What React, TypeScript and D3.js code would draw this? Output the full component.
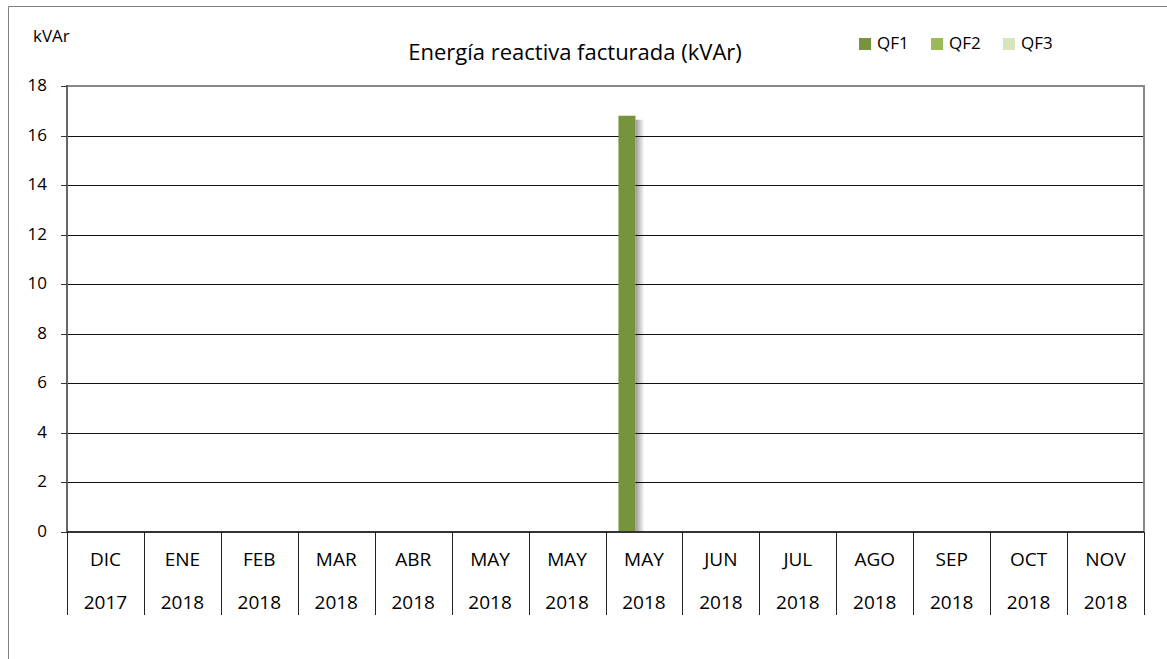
import * as React from "react";
import * as d3 from "d3";

const months = ["DIC", "ENE", "FEB", "MAR", "ABR", "MAY", "MAY", "MAY", "JUN", "JUL", "AGO", "SEP", "OCT", "NOV"];
const years = ["2017", "2018", "2018", "2018", "2018", "2018", "2018", "2018", "2018", "2018", "2018", "2018", "2018", "2018"];
const seriesNames = ["QF1", "QF2", "QF3"];
const qf1 = [0, 0, 0, 0, 0, 0, 0, 16.8, 0, 0, 0, 0, 0, 0];
const qf2 = [0, 0, 0, 0, 0, 0, 0, 0, 0, 0, 0, 0, 0, 0];
const qf3 = [0, 0, 0, 0, 0, 0, 0, 0, 0, 0, 0, 0, 0, 0];
const yTicks = [0, 2, 4, 6, 8, 10, 12, 14, 16, 18];
const colors = ["#77933C", "#9BBB59", "#D7E4BD"];

const font = "'Open Sans', sans-serif";

export default function App() {
  const width = 1167;
  const height = 659;
  const left = 67, right = 1144, top = 86, bottom = 532;

  const series = [qf1, qf2, qf3];
  const idx = months.map((_, i) => i);

  const x = d3.scaleBand<number>().domain(idx).range([left, right]);
  const groupW = 51;
  const inner = d3.scaleBand<number>().domain([0, 1, 2]).range([0, groupW]);
  const y = d3.scaleLinear().domain([0, 18]).range([bottom, top]);
  const groupOffset = (x.bandwidth() - groupW) / 2;
  const crisp = (v: number) => Math.round(v) + 0.5;

  return (
    <svg width={width} height={height} style={{ position: "absolute", left: 0, top: 0 }} fontFamily={font}>
      <defs>
        <linearGradient id="shadow" x1="0" x2="1" y1="0" y2="0">
          <stop offset="0" stopColor="#000" stopOpacity={0.4} />
          <stop offset="1" stopColor="#000" stopOpacity={0} />
        </linearGradient>
      </defs>
      <rect x={0} y={0} width={width} height={height} fill="#fff" />
      {/* outer frame */}
      <path d={`M8.5,${height} V6.5 H${width}`} fill="none" stroke="#808080" strokeWidth={1} />

      {/* gridlines */}
      {yTicks.filter(t => t > 0 && t < 18).map(t => (
        <line key={t} x1={left} x2={right} y1={crisp(y(t))} y2={crisp(y(t))} stroke="#111" strokeWidth={1} />
      ))}
      {/* plot border (top & right) */}
      <path d={`M${left},${top} H${right} V${bottom}`} fill="none" stroke="#888" strokeWidth={2} />

      {/* bars */}
      {series.map((vals, s) =>
        vals.map((v, i) => {
          if (!v) return null;
          const bx = (x(i) as number) + groupOffset + (inner(s) as number);
          const bw = inner.bandwidth();
          return (
            <g key={`${s}-${i}`}>
              <rect x={bx + bw} y={y(v) + 4} width={9} height={bottom - y(v) - 4} fill="url(#shadow)" />
              <rect x={bx} y={y(v)} width={bw} height={bottom - y(v)} fill={colors[s]} />
            </g>
          );
        })
      )}

      {/* y axis */}
      <line x1={left} x2={left} y1={top - 1} y2={bottom + 1} stroke="#666" strokeWidth={2} />
      {yTicks.map(t => (
        <g key={t}>
          <line x1={61} x2={left} y1={crisp(y(t))} y2={crisp(y(t))} stroke="#333" strokeWidth={1} />
          <text x={47} y={y(t) + 5} textAnchor="end" fontSize={17} fill="#000">{t}</text>
        </g>
      ))}

      {/* x axis */}
      <line x1={left} x2={right} y1={bottom} y2={bottom} stroke="#333" strokeWidth={2} />
      {idx.concat([months.length]).map(i => {
        const xx = i < months.length ? (x(i) as number) : right;
        return <line key={`t${i}`} x1={crisp(xx)} x2={crisp(xx)} y1={bottom} y2={615} stroke="#222" strokeWidth={1} />;
      })}
      {idx.map(i => {
        const cx = (x(i) as number) + x.bandwidth() / 2;
        return (
          <g key={`l${i}`}>
            <text x={cx} y={566} textAnchor="middle" fontSize={19} fill="#000">{months[i]}</text>
            <text x={cx} y={609} textAnchor="middle" fontSize={19} fill="#000">{years[i]}</text>
          </g>
        );
      })}

      {/* axis unit label */}
      <text x={33} y={42} fontSize={17} fill="#000">kVAr</text>

      {/* title */}
      <text x={575} y={60} textAnchor="middle" fontSize={22} fill="#000">Energía reactiva facturada (kVAr)</text>

      {/* legend */}
      {seriesNames.map((n, i) => {
        const lx = 859 + i * 72;
        return (
          <g key={n}>
            <rect x={lx} y={38} width={12} height={12} fill={colors[i]} />
            <text x={lx + 18} y={49} fontSize={17} fill="#000">{n}</text>
          </g>
        );
      })}
    </svg>
  );
}
